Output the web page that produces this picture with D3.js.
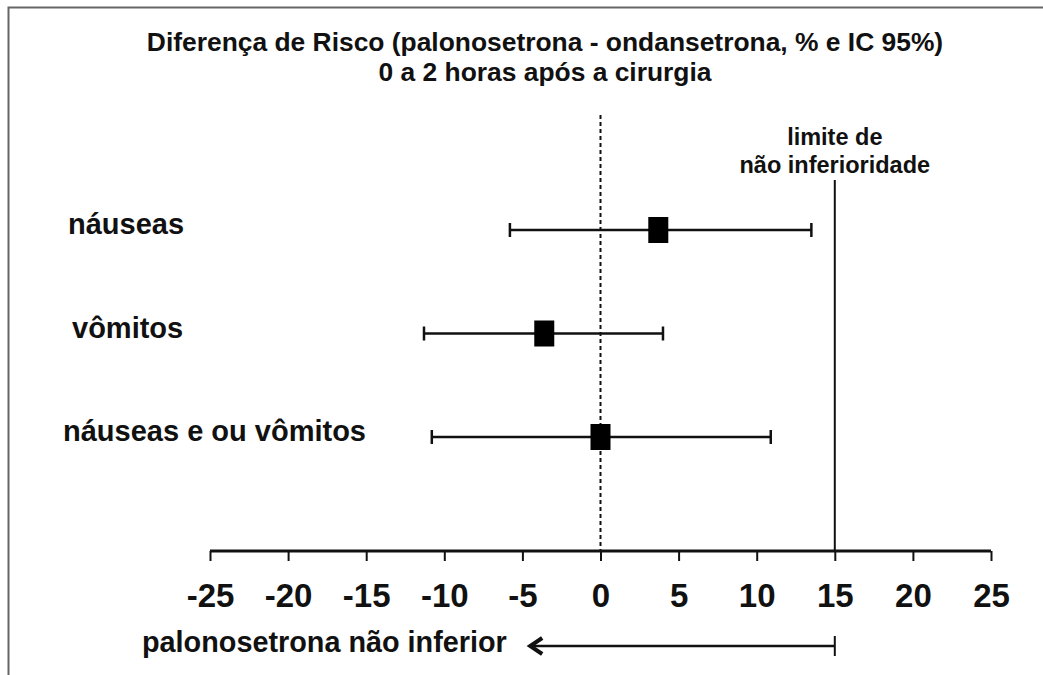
<!DOCTYPE html>
<html>
<head>
<meta charset="utf-8">
<script src="https://cdn.jsdelivr.net/npm/d3@7"></script>
<style>
  body { margin: 0; background: #fff; }
  svg text { font-family: "Liberation Sans", Arial, Helvetica, sans-serif; font-weight: bold; fill: #111; }
  .title { font-size: 26.4px; }
</style>
</head>
<body>
<script>
// outcomes, point estimates and 95% CI (risk difference, %)
var outcomes = ["náuseas", "vômitos", "náuseas e ou vômitos"];
var estimates = [3.7, -3.6, 0];
var lower = [-5.8, -11.3, -10.8];
var upper = [13.5, 4.0, 10.9];
var tickValues = [-25, -20, -15, -10, -5, 0, 5, 10, 15, 20, 25];
var margin = 15; // non-inferiority limit
var arrowEnd = -4.5;
var titleLines = ["Diferença de Risco (palonosetrona - ondansetrona, % e IC 95%)", "0 a 2 horas após a cirurgia"];
var limitLabel = ["limite de", "não inferioridade"];
var arrowLabel = "palonosetrona não inferior";

var width = 1043, height = 675,
    axisY = 551;

var data = outcomes.map(function (d, i) {
  return {name: d, est: estimates[i], lo: lower[i], hi: upper[i]};
});

var svg = d3.select("body").append("svg")
  .attr("width", width)
  .attr("height", height);

// frame (left and top edges)
svg.append("path")
  .attr("d", "M8.5," + height + "V7.5H" + width)
  .attr("fill", "none")
  .attr("stroke", "#666")
  .attr("stroke-width", 2);

var x = d3.scaleLinear().domain([-25, 25]).range([210, 991]);
var y = d3.scalePoint().domain(outcomes).range([230, 437]);

// title
svg.selectAll(".title")
  .data(titleLines)
  .enter()
  .append("text")
  .attr("class", "title")
  .attr("x", 545)
  .attr("y", function (d, i) { return 51 + i * 30; })
  .attr("text-anchor", "middle")
  .text(function (d) { return d; });

// zero line
svg.append("line")
  .attr("x1", x(0)).attr("x2", x(0))
  .attr("y1", 115).attr("y2", axisY)
  .attr("stroke", "#111")
  .attr("stroke-width", 2)
  .attr("stroke-dasharray", "4,3");

// non-inferiority limit
svg.append("line")
  .attr("x1", x(margin)).attr("x2", x(margin))
  .attr("y1", 180).attr("y2", axisY)
  .attr("stroke", "#111")
  .attr("stroke-width", 2);

svg.selectAll(".limit")
  .data(limitLabel)
  .enter()
  .append("text")
  .attr("class", "limit")
  .attr("x", x(margin))
  .attr("y", function (d, i) { return 145 + i * 28; })
  .attr("text-anchor", "middle")
  .style("font-size", "23.5px")
  .text(function (d) { return d; });

// axis
var xAxis = d3.axisBottom(x)
  .tickValues(tickValues)
  .tickSize(10)
  .tickPadding(23)
  .tickFormat(function (d) { return String(d); });

var gx = svg.append("g")
  .attr("transform", "translate(0," + axisY + ")")
  .call(xAxis);

gx.select(".domain")
  .attr("d", "M" + x(-25) + ",0H" + x(25))
  .attr("stroke", "#111")
  .attr("stroke-width", 3);
gx.selectAll(".tick line")
  .attr("stroke", "#111")
  .attr("stroke-width", 2);
gx.selectAll(".tick text")
  .attr("fill", "#111")
  .style("font-family", "'Liberation Sans', Arial, sans-serif")
  .style("font-weight", "bold")
  .style("font-size", "33px");

// rows
var row = svg.append("g")
  .selectAll("g")
  .data(data)
  .enter()
  .append("g");

row.append("text")
  .attr("x", function (d, i) { return [68, 72, 63][i]; })
  .attr("y", function (d) { return y(d.name) + 4; })
  .style("font-size", "29px")
  .text(function (d) { return d.name; });

row.append("line")
  .attr("x1", function (d) { return x(d.lo); })
  .attr("x2", function (d) { return x(d.hi); })
  .attr("y1", function (d) { return y(d.name); })
  .attr("y2", function (d) { return y(d.name); })
  .attr("stroke", "#111")
  .attr("stroke-width", 2.5);

row.selectAll(".cap")
  .data(function (d) { return [d.lo, d.hi].map(function (v) { return {v: v, name: d.name}; }); })
  .enter()
  .append("line")
  .attr("class", "cap")
  .attr("x1", function (d) { return x(d.v); })
  .attr("x2", function (d) { return x(d.v); })
  .attr("y1", function (d) { return y(d.name) - 7; })
  .attr("y2", function (d) { return y(d.name) + 7; })
  .attr("stroke", "#111")
  .attr("stroke-width", 2.5);

row.append("rect")
  .attr("x", function (d) { return x(d.est) - 10; })
  .attr("y", function (d) { return y(d.name) - 13; })
  .attr("width", 20)
  .attr("height", 26)
  .attr("fill", "#000");

// arrow
var arrowY = 646;
svg.append("line")
  .attr("x1", x(margin)).attr("x2", x(arrowEnd) + 2)
  .attr("y1", arrowY).attr("y2", arrowY)
  .attr("stroke", "#111")
  .attr("stroke-width", 2.5);
svg.append("line")
  .attr("x1", x(margin)).attr("x2", x(margin))
  .attr("y1", arrowY - 10).attr("y2", arrowY + 10)
  .attr("stroke", "#111")
  .attr("stroke-width", 2);
svg.append("path")
  .attr("d", "M" + (x(arrowEnd) + 12) + "," + (arrowY - 8) + "L" + x(arrowEnd) + "," + arrowY + "L" + (x(arrowEnd) + 12) + "," + (arrowY + 8))
  .attr("fill", "none")
  .attr("stroke", "#111")
  .attr("stroke-width", 4);

svg.append("text")
  .attr("x", 142)
  .attr("y", 652)
  .style("font-size", "28.8px")
  .text(arrowLabel);
</script>
</body>
</html>
